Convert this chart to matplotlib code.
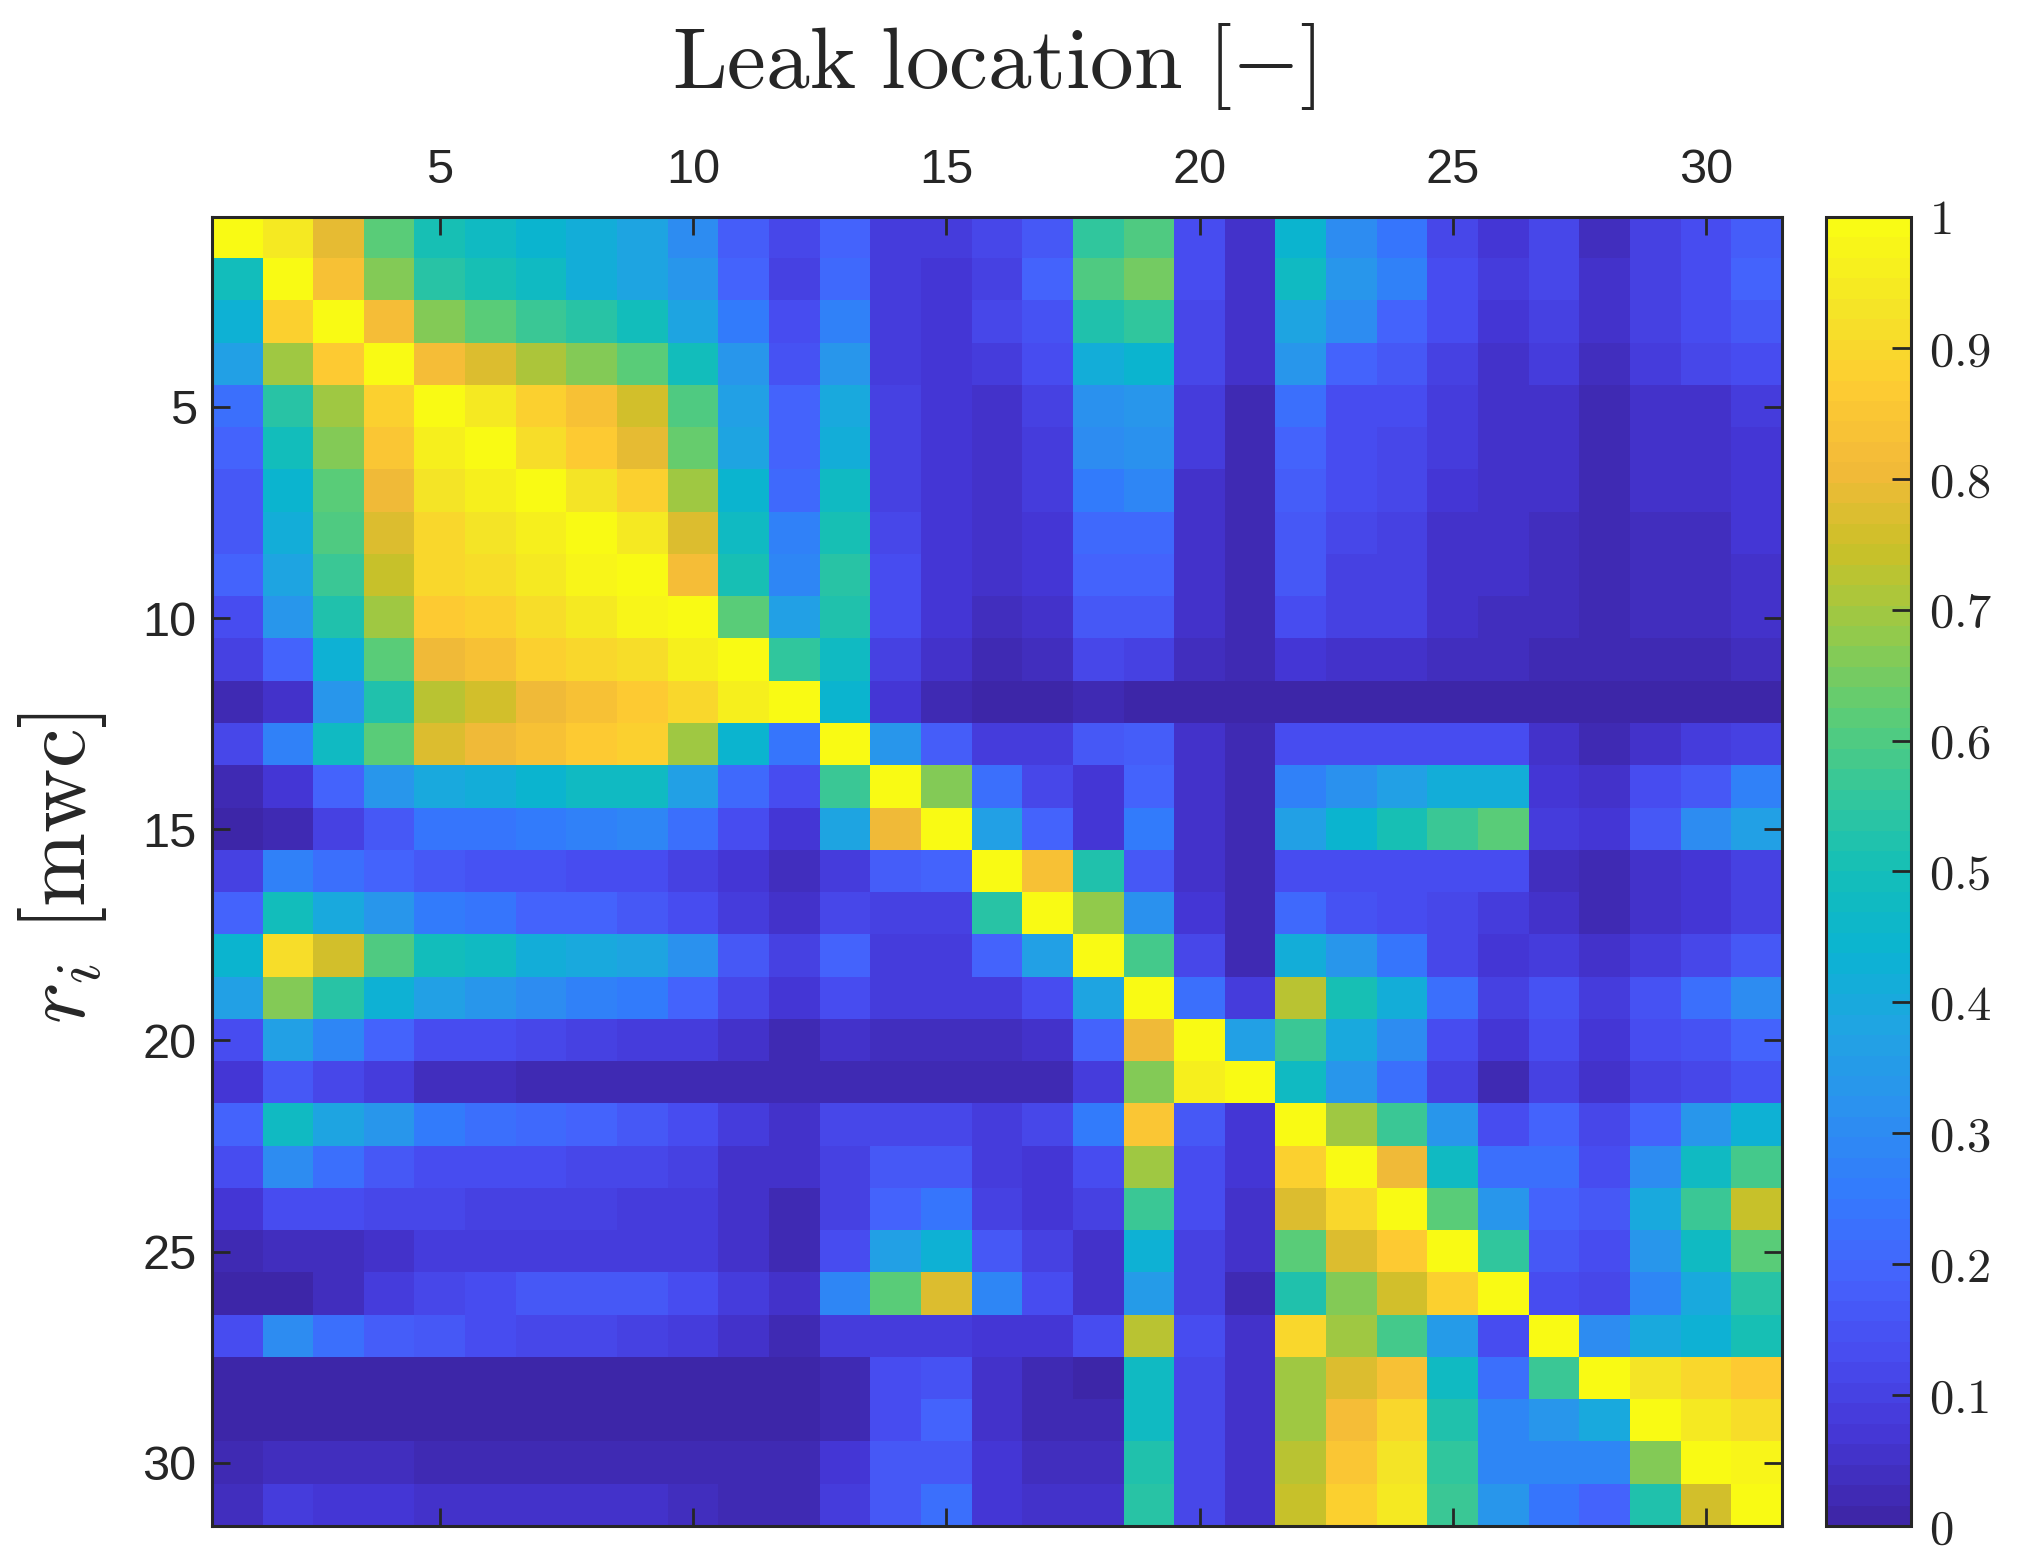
import numpy as np
import matplotlib
matplotlib.use("Agg")
import matplotlib.pyplot as plt
from matplotlib.colors import LinearSegmentedColormap

plt.rcParams['mathtext.fontset'] = 'cm'
plt.rcParams['font.family'] = ['Liberation Sans', 'DejaVu Sans']

# sensitivity matrix, rows = r_i, columns = leak location
sens = [
    [1.00,0.94,0.79,0.62,0.51,0.48,0.44,0.41,0.38,0.31,0.18,0.11,0.20,0.08,0.08,0.11, 0.17,0.56,0.60,0.13,0.05,0.44,0.31,0.24,0.12,0.07,0.12,0.04,0.10,0.13,0.18],
    [0.49,0.99,0.83,0.67,0.54,0.51,0.47,0.42,0.39,0.33,0.20,0.10,0.21,0.09,0.07,0.10, 0.20,0.60,0.65,0.14,0.05,0.47,0.34,0.27,0.13,0.08,0.11,0.05,0.10,0.14,0.20],
    [0.43,0.88,1.00,0.82,0.66,0.62,0.57,0.54,0.49,0.39,0.25,0.14,0.27,0.09,0.07,0.11, 0.15,0.52,0.55,0.12,0.05,0.39,0.30,0.20,0.13,0.07,0.10,0.05,0.10,0.13,0.16],
    [0.36,0.70,0.87,1.00,0.82,0.77,0.71,0.66,0.61,0.49,0.33,0.15,0.34,0.09,0.07,0.09, 0.13,0.42,0.45,0.11,0.05,0.33,0.20,0.17,0.10,0.06,0.08,0.04,0.08,0.11,0.13],
    [0.23,0.54,0.70,0.88,1.00,0.95,0.88,0.83,0.75,0.60,0.37,0.19,0.40,0.10,0.07,0.06, 0.10,0.32,0.34,0.09,0.03,0.22,0.14,0.13,0.08,0.06,0.06,0.03,0.05,0.06,0.09],
    [0.20,0.49,0.67,0.85,0.96,0.99,0.92,0.87,0.79,0.64,0.39,0.20,0.42,0.10,0.07,0.06, 0.09,0.31,0.32,0.08,0.03,0.20,0.14,0.12,0.08,0.06,0.06,0.03,0.05,0.06,0.07],
    [0.17,0.45,0.62,0.80,0.93,0.96,1.00,0.93,0.88,0.70,0.44,0.21,0.47,0.10,0.07,0.05, 0.08,0.25,0.29,0.06,0.03,0.18,0.13,0.12,0.07,0.06,0.05,0.02,0.05,0.06,0.07],
    [0.17,0.41,0.60,0.77,0.90,0.93,0.96,0.99,0.94,0.77,0.47,0.27,0.50,0.11,0.07,0.05, 0.07,0.21,0.21,0.05,0.02,0.17,0.12,0.10,0.06,0.06,0.04,0.02,0.04,0.04,0.07],
    [0.19,0.39,0.57,0.74,0.90,0.92,0.95,0.97,0.99,0.82,0.50,0.29,0.54,0.13,0.07,0.05, 0.07,0.20,0.20,0.05,0.02,0.16,0.10,0.10,0.06,0.06,0.04,0.02,0.04,0.04,0.06],
    [0.13,0.33,0.52,0.70,0.86,0.89,0.92,0.94,0.97,1.00,0.62,0.36,0.52,0.13,0.07,0.04, 0.06,0.16,0.16,0.05,0.02,0.13,0.10,0.10,0.05,0.04,0.04,0.02,0.04,0.04,0.05],
    [0.10,0.20,0.43,0.62,0.80,0.84,0.88,0.90,0.91,0.96,1.00,0.55,0.48,0.10,0.06,0.03, 0.04,0.12,0.10,0.04,0.02,0.07,0.05,0.05,0.04,0.04,0.03,0.02,0.03,0.03,0.04],
    [0.03,0.06,0.33,0.53,0.72,0.76,0.80,0.84,0.86,0.90,0.96,1.00,0.44,0.07,0.02,0.01, 0.01,0.02,0.01,0.01,0.01,0.01,0.01,0.01,0.01,0.01,0.01,0.01,0.01,0.01,0.01],
    [0.11,0.27,0.47,0.62,0.77,0.80,0.84,0.87,0.88,0.70,0.44,0.24,1.00,0.33,0.18,0.09, 0.08,0.17,0.18,0.05,0.02,0.14,0.14,0.14,0.14,0.14,0.05,0.03,0.05,0.08,0.10],
    [0.03,0.07,0.20,0.33,0.40,0.41,0.44,0.47,0.48,0.37,0.21,0.13,0.57,1.00,0.67,0.22, 0.11,0.07,0.19,0.05,0.02,0.27,0.32,0.36,0.42,0.42,0.07,0.05,0.13,0.17,0.27],
    [0.00,0.03,0.10,0.17,0.24,0.24,0.26,0.27,0.29,0.22,0.13,0.07,0.39,0.80,1.00,0.36, 0.19,0.07,0.26,0.05,0.03,0.36,0.44,0.50,0.57,0.62,0.09,0.07,0.16,0.30,0.36],
    [0.10,0.27,0.22,0.19,0.16,0.15,0.15,0.14,0.14,0.10,0.07,0.04,0.09,0.18,0.20,1.00, 0.84,0.52,0.16,0.05,0.02,0.14,0.14,0.14,0.14,0.13,0.04,0.03,0.05,0.07,0.10],
    [0.20,0.49,0.40,0.33,0.26,0.24,0.20,0.19,0.17,0.13,0.09,0.05,0.11,0.10,0.10,0.54, 1.00,0.68,0.32,0.07,0.03,0.21,0.15,0.14,0.11,0.09,0.05,0.02,0.05,0.07,0.10],
    [0.45,0.91,0.76,0.60,0.49,0.47,0.42,0.40,0.38,0.32,0.16,0.10,0.19,0.09,0.09,0.19, 0.36,1.00,0.58,0.11,0.03,0.42,0.33,0.24,0.11,0.07,0.09,0.05,0.09,0.11,0.16],
    [0.36,0.66,0.54,0.43,0.36,0.34,0.31,0.28,0.25,0.20,0.12,0.07,0.14,0.09,0.09,0.09, 0.13,0.38,1.00,0.22,0.08,0.73,0.50,0.41,0.22,0.10,0.15,0.09,0.15,0.22,0.30],
    [0.14,0.37,0.29,0.20,0.14,0.13,0.11,0.10,0.09,0.08,0.05,0.03,0.05,0.04,0.04,0.04, 0.05,0.19,0.80,1.00,0.36,0.57,0.40,0.31,0.13,0.07,0.14,0.07,0.13,0.15,0.19],
    [0.07,0.16,0.11,0.09,0.04,0.04,0.03,0.03,0.02,0.02,0.02,0.02,0.02,0.02,0.02,0.02, 0.02,0.08,0.66,0.96,1.00,0.48,0.33,0.23,0.10,0.03,0.10,0.05,0.10,0.11,0.15],
    [0.20,0.48,0.38,0.33,0.25,0.23,0.21,0.19,0.17,0.14,0.08,0.05,0.12,0.12,0.12,0.09, 0.11,0.26,0.85,0.16,0.07,1.00,0.70,0.57,0.33,0.14,0.20,0.11,0.20,0.33,0.43],
    [0.13,0.30,0.23,0.16,0.14,0.14,0.13,0.12,0.11,0.10,0.05,0.05,0.10,0.16,0.16,0.09, 0.07,0.14,0.69,0.14,0.07,0.88,1.00,0.80,0.48,0.23,0.23,0.14,0.31,0.47,0.59],
    [0.07,0.14,0.13,0.12,0.11,0.10,0.10,0.10,0.09,0.08,0.05,0.03,0.10,0.20,0.24,0.10, 0.07,0.10,0.57,0.14,0.05,0.77,0.90,1.00,0.61,0.33,0.20,0.16,0.40,0.57,0.74],
    [0.03,0.04,0.04,0.06,0.08,0.08,0.09,0.09,0.09,0.08,0.05,0.03,0.14,0.37,0.43,0.16, 0.10,0.05,0.43,0.10,0.05,0.62,0.77,0.87,1.00,0.56,0.17,0.14,0.34,0.48,0.62],
    [0.01,0.01,0.04,0.08,0.12,0.14,0.16,0.16,0.17,0.13,0.08,0.05,0.29,0.62,0.77,0.29, 0.13,0.05,0.35,0.10,0.03,0.52,0.66,0.76,0.89,1.00,0.14,0.11,0.29,0.40,0.54],
    [0.14,0.30,0.23,0.18,0.16,0.14,0.12,0.11,0.10,0.09,0.05,0.03,0.08,0.08,0.09,0.07, 0.07,0.14,0.73,0.14,0.05,0.90,0.69,0.59,0.35,0.14,1.00,0.30,0.40,0.43,0.50],
    [0.01,0.01,0.01,0.01,0.01,0.01,0.01,0.01,0.01,0.01,0.01,0.01,0.03,0.13,0.15,0.05, 0.02,0.01,0.48,0.12,0.05,0.70,0.77,0.83,0.48,0.23,0.57,1.00,0.93,0.90,0.86],
    [0.01,0.01,0.01,0.01,0.01,0.01,0.01,0.01,0.01,0.01,0.01,0.01,0.03,0.14,0.19,0.06, 0.03,0.02,0.48,0.12,0.05,0.70,0.82,0.90,0.53,0.29,0.34,0.40,1.00,0.95,0.92],
    [0.03,0.04,0.04,0.04,0.03,0.03,0.03,0.03,0.03,0.03,0.02,0.02,0.07,0.16,0.17,0.07, 0.04,0.04,0.52,0.12,0.05,0.72,0.85,0.93,0.56,0.29,0.29,0.29,0.67,1.00,0.97],
    [0.04,0.08,0.07,0.07,0.05,0.05,0.05,0.05,0.05,0.04,0.03,0.02,0.08,0.16,0.22,0.07, 0.05,0.05,0.54,0.12,0.05,0.74,0.88,0.95,0.57,0.33,0.24,0.20,0.52,0.76,1.00],
]

axis_ticks = [5, 10, 15, 20, 25, 30]
cbar_ticks = [0, 0.1, 0.2, 0.3, 0.4, 0.5, 0.6, 0.7, 0.8, 0.9, 1]
cbar_labels = ['0', '0.1', '0.2', '0.3', '0.4', '0.5', '0.6', '0.7', '0.8', '0.9', '1']

# parula (matlab) rebuilt from a few anchor colours
parula_pts = [
    (0.2422, 0.1504, 0.6603), (0.2704, 0.2138, 0.8346), (0.2813, 0.2985, 0.9397),
    (0.2710, 0.3860, 0.9898), (0.2006, 0.4803, 0.9906), (0.1716, 0.5655, 0.9393),
    (0.1288, 0.6408, 0.8910), (0.0433, 0.7039, 0.8242), (0.0770, 0.7468, 0.7224),
    (0.2061, 0.7808, 0.6065), (0.3671, 0.8021, 0.4563), (0.5886, 0.7913, 0.2833),
    (0.7945, 0.7554, 0.1570), (0.9523, 0.7284, 0.2237), (0.9938, 0.7974, 0.1974),
    (0.9601, 0.8963, 0.1507), (0.9769, 0.9839, 0.0805),
]
parula = LinearSegmentedColormap.from_list('parula', parula_pts, N=64)

data = np.array(sens)
n = data.shape[0]
edge = '#262626'

fig = plt.figure(figsize=(20.4, 15.53), dpi=100)
ax = fig.add_axes([0.1039, 0.0174, 0.7696, 0.8429])
im = ax.imshow(data, cmap=parula, vmin=0, vmax=1, aspect='auto',
               interpolation='nearest', extent=(0.5, n + 0.5, n + 0.5, 0.5))
ax.set_xticks(axis_ticks)
ax.set_yticks(axis_ticks)
ax.tick_params(direction='in', length=13, width=2, color=edge, labelsize=35,
               labelcolor=edge, top=True, bottom=True, left=True, right=True,
               labeltop=True, labelbottom=False)
ax.tick_params(axis='x', pad=17)
ax.tick_params(axis='y', pad=11)
for s in ax.spines.values():
    s.set_linewidth(2.2)
    s.set_color(edge)

cax = fig.add_axes([0.8951, 0.0174, 0.0417, 0.8429])
cb = fig.colorbar(im, cax=cax, ticks=cbar_ticks)
cb.ax.set_yticklabels(['$' + t + '$' for t in cbar_labels])
cb.ax.tick_params(direction='in', length=14, width=2, color=edge, labelsize=35,
                  labelcolor=edge, pad=13)
cb.outline.set_linewidth(2.2)
cb.outline.set_edgecolor(edge)

fig.text(0.487, 0.957, r'$\mathrm{Leak\ location}\ [-]$', ha='center', va='center',
         fontsize=63, color=edge)
fig.text(0.0306, 0.441, r'$r_i\ [\mathrm{mwc}]$', ha='center', va='center',
         rotation=90, fontsize=64, color=edge)

fig.savefig('out.png', dpi=100)
